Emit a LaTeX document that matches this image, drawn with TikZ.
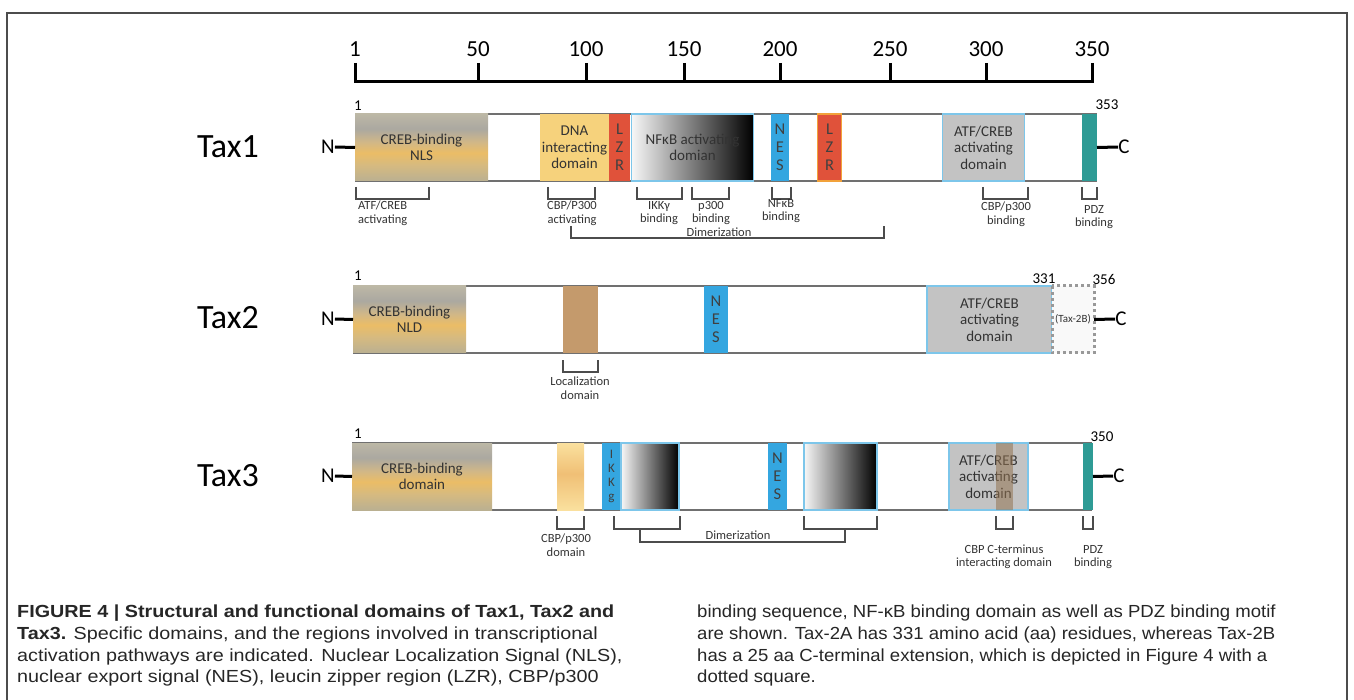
\documentclass[tikz,border=0pt]{standalone}
\usepackage{fontspec}
\setmainfont{Carlito}
\newfontfamily\capfontl{Liberation Sans}[FakeStretch=1.13]
\newfontfamily\capfontr{Liberation Sans}[FakeStretch=1.06]
\usepackage{xcolor}
\usetikzlibrary{arrows.meta}
\usetikzlibrary{backgrounds}

\definecolor{dnayellow}{HTML}{F6D27C}
\definecolor{lzrred}{HTML}{E0523A}
\definecolor{lzredge}{HTML}{F2A23A}
\definecolor{nesblue}{HTML}{34A6E0}
\definecolor{atfgray}{HTML}{C3C3C3}
\definecolor{edgeblue}{HTML}{7DC6EA}
\definecolor{pdzteal}{HTML}{2E9B95}
\definecolor{locbrown}{HTML}{C49A6C}
\definecolor{barline}{HTML}{707070}
\definecolor{crebbot}{rgb}{0.73,0.69,0.57}
\definecolor{crebwarm}{rgb}{0.84,0.73,0.50}
\definecolor{crebgold}{rgb}{0.92,0.74,0.40}
\definecolor{crebmid}{rgb}{0.82,0.72,0.53}
\definecolor{crebgray}{rgb}{0.67,0.66,0.63}
\definecolor{crebtop}{rgb}{0.74,0.72,0.65}
\definecolor{cbplight}{rgb}{0.98,0.88,0.62}
\definecolor{cbpdark}{rgb}{0.94,0.75,0.46}

% gray/gold banding of the CREB-binding boxes (path maps to 25bp..75bp)
\pgfdeclareverticalshading{crebband}{100bp}{
  color(0bp)=(crebbot); color(25bp)=(crebbot);
  color(37bp)=(crebwarm); color(46bp)=(crebgold);
  color(54bp)=(crebmid); color(64bp)=(crebgray);
  color(75bp)=(crebtop); color(100bp)=(crebtop)}
\pgfdeclareverticalshading{cbpblob}{100bp}{
  color(0bp)=(cbplight); color(25bp)=(cbplight);
  color(52bp)=(cbpdark);
  color(75bp)=(cbplight); color(100bp)=(cbplight)}

\begin{document}
\begin{tikzpicture}[x=1pt,y=-1pt,
    dom/.style={shape=rectangle, inner sep=0pt, outer sep=0pt,
      minimum height=67pt, align=center, text=black!80,
      font=\fontsize{15}{16.5}\selectfont},
    letters/.style={dom, text=black!75, font=\fontsize{16.5}{18}\selectfont},
    crebbox/.style={dom, shading=crebband},
    gradbox/.style={dom, draw=edgeblue, line width=1.2pt, left color=gray!6, right color=black},
    atfbox/.style={dom, fill=atfgray, draw=edgeblue, line width=1.2pt},
    lbl/.style={inner sep=0pt, align=center, text=black!80, font=\fontsize{12.5}{13.5}\selectfont},
    num/.style={inner sep=0pt, font=\fontsize{15}{15}\selectfont},
    tick/.style={inner sep=0pt, font=\fontsize{23}{23}\selectfont},
    taxname/.style={inner sep=0pt, font=\fontsize{34}{34}\selectfont},
    endname/.style={inner sep=0pt, font=\fontsize{21}{21}\selectfont},
    brk/.style={draw=black!70, line width=1.2pt},
    bar/.style={draw=barline, line width=2pt},
    stub/.style={draw=black, line width=3pt}]
    \useasboundingbox (0,0) rectangle (1354,700);
    %\draw[help lines,step=50] (0,0) grid (1354,700); % Only for Development

    % frame
    \draw[draw=black!70, line width=1.3pt] (7,705) -- (7,13) -- (1347,13) -- (1347,705);

    % scale bar
    \draw[line width=3pt] (355,82) -- (1093,82);
    \foreach \x/\n in {355/1,478/50,586/100,684/150,780/200,890/250,986/300,1092/350}{
      \draw[line width=3pt] (\x,63) -- (\x,83);
      \node[tick] (t\n) at (\x,49) {\n};
    }

    %% Tax1
    \node[taxname] (tax1) at (228,147) {Tax1};
    \draw[bar] (355,114) -- (1097,114);
    \draw[bar] (355,181) -- (1097,181);
    \node[crebbox, minimum width=133pt] (creb1) at (421.5,147.5) {CREB-binding\\NLS};
    \node[dom, fill=dnayellow, minimum width=69pt] (dna1) at (574.5,147.5) {DNA\\interacting\\domain};
    \node[letters, fill=lzrred, minimum width=21pt] (lzra1) at (619.5,147.5) {L\\Z\\R};
    \node[gradbox, minimum width=122pt] (nfkb1) at (692.5,147.5) {NFκB activating\\domian};
    \node[letters, fill=nesblue, minimum width=18pt] (nes1) at (780,147.5) {N\\E\\S};
    \node[letters, fill=lzrred, draw=lzredge, line width=1.2pt, minimum width=24pt] (lzrb1) at (829.5,147.5) {L\\Z\\R};
    \node[atfbox, minimum width=82pt] (atf1) at (983.5,147.5) {ATF/CREB\\activating\\domain};
    \node[dom, fill=pdzteal, minimum width=15pt] (pdz1) at (1089.5,147.5) {};
    \node[num] (s1) at (358,106) {1};
    \node[num] (e1) at (1107,105) {353};
    \node[endname] (n1) at (328,147) {N};
    \node[endname] (c1) at (1124,147) {C};
    \draw[stub] (n1.east) -- (creb1.west);
    \draw[stub] (pdz1.east) -- (c1.west);

    \draw[brk] (356,187) |- (429,199) -- (429,187);
    \node[lbl, align=left, anchor=west] (a1) at (358,213) {ATF/CREB\\activating};
    \draw[brk] (548,187) |- (595,199) -- (595,187);
    \node[lbl] (a2) at (572,213) {CBP/P300\\activating};
    \draw[brk] (637,187) |- (682,199) -- (682,187);
    \node[lbl] (a3) at (659,213) {IKKγ\\binding};
    \draw[brk] (692,187) |- (729,199) -- (729,187);
    \node[lbl] (a4) at (711,213) {p300\\binding};
    \draw[brk] (772,187) |- (791,199) -- (791,187);
    \node[lbl] (a5) at (781,211) {NFκB\\binding};
    \draw[brk] (983,187) |- (1028,199) -- (1028,187);
    \node[lbl] (a6) at (1006,214) {CBP/p300\\binding};
    \draw[brk] (1082,187) |- (1097,199) -- (1097,187);
    \node[lbl] (a7) at (1094,217) {PDZ\\binding};
    \draw[brk] (571,226) |- (884,238) -- (884,226);
    \node[lbl] (dim1) at (719,232) {Dimerization};

    %% Tax2
    \node[taxname] (tax2) at (228,318) {Tax2};
    \draw[bar] (353,286) -- (1052,286);
    \draw[bar] (353,353) -- (1052,353);
    \node[crebbox, minimum width=113pt] (creb2) at (409.5,319.5) {CREB-binding\\NLD};
    \node[dom, fill=locbrown, minimum width=35pt] (loc2) at (580.5,319.5) {};
    \node[letters, fill=nesblue, minimum width=24pt] (nes2) at (716,319.5) {N\\E\\S};
    \node[atfbox, minimum width=125pt] (atf2) at (989.5,319.5) {ATF/CREB\\activating\\domain};
    \node[dom, fill=gray!5, minimum width=42pt, font=\fontsize{11}{11}\selectfont] (ext2) at (1073,319.5) {(Tax-2B)};
    \draw[draw=gray!80, line width=3pt, dash pattern=on 3pt off 3pt]
      (ext2.north west) rectangle (ext2.south east);
    \node[num] (s2) at (358,276) {1};
    \node[num] (m2) at (1044,279) {331};
    \node[num] (e2) at (1104,279) {356};
    \node[endname] (n2) at (328,319) {N};
    \node[endname] (c2) at (1121,319) {C};
    \draw[stub] (n2.east) -- (creb2.west);
    \draw[stub] (ext2.east) -- (c2.west);

    \draw[brk] (563,360) |- (598,372) -- (598,360);
    \node[lbl] (l2) at (580,388) {Localization\\domain};

    %% Tax3
    \node[taxname] (tax3) at (228,476) {Tax3};
    \draw[bar] (352,443) -- (1092,443);
    \draw[bar] (352,510) -- (1092,510);
    \node[crebbox, minimum width=140pt] (creb3) at (422,476.5) {CREB-binding\\domain};
    \node[dom, shading=cbpblob, minimum width=27pt] (cbp3) at (570.5,476.5) {};
    \node[letters, fill=nesblue, minimum width=19pt, font=\fontsize{13}{14}\selectfont] (ikk3) at (611.5,476.5) {I\\K\\K\\g};
    \node[gradbox, minimum width=58pt] (gra3) at (650,476.5) {};
    \node[letters, fill=nesblue, minimum width=19pt] (nes3) at (777.5,476.5) {N\\E\\S};
    \node[gradbox, minimum width=73pt] (grb3) at (840.5,476.5) {};
    \node[atfbox, minimum width=79pt] (atf3) at (988.5,476.5) {ATF/CREB\\activating\\domain};
    \fill[fill=locbrown!75!black, fill opacity=0.55] (996,443) rectangle (1013,510);
    \node[dom, fill=pdzteal, minimum width=10pt] (pdz3) at (1088,476.5) {};
    \node[num] (s3) at (358,434) {1};
    \node[num] (e3) at (1102,437) {350};
    \node[endname] (n3) at (328,476) {N};
    \node[endname] (c3) at (1119,476) {C};
    \draw[stub] (n3.east) -- (creb3.west);
    \draw[stub] (pdz3.east) -- (c3.west);

    \draw[brk] (557,516) |- (584,529) -- (584,516);
    \node[lbl] (b1) at (566,545) {CBP/p300\\domain};
    \draw[brk] (614,516) |- (680,529) -- (680,516);
    \draw[brk] (804,516) |- (877,529) -- (877,516);
    \draw[brk] (640,529) |- (845,542) -- (845,529);
    \node[lbl] (dim3) at (738,535) {Dimerization};
    \draw[brk] (996,516) |- (1013,529) -- (1013,516);
    \node[lbl] (b2) at (1004,557) {CBP C-terminus\\interacting domain};
    \draw[brk] (1083,516) |- (1093,529) -- (1093,516);
    \node[lbl] (b3) at (1093,557) {PDZ\\binding};

    %% caption
    \node[anchor=north west, inner sep=0pt, align=left, text=black!85,
      font=\capfontl\fontsize{17.5}{21.7}\selectfont] (capl) at (17,605)
      {\textbf{FIGURE 4 | Structural and functional domains of Tax1, Tax2 and}\\
       \textbf{Tax3.} Specific domains, and the regions involved in transcriptional\\
       activation pathways are indicated. Nuclear Localization Signal (NLS),\\
       nuclear export signal (NES), leucin zipper region (LZR), CBP/p300};
    \node[anchor=north west, inner sep=0pt, align=left, text=black!85,
      font=\capfontr\fontsize{17.5}{21.7}\selectfont] (capr) at (697,605)
      {binding sequence, NF-κB binding domain as well as PDZ binding motif\\
       are shown. Tax-2A has 331 amino acid (aa) residues, whereas Tax-2B\\
       has a 25 aa C-terminal extension, which is depicted in Figure 4 with a\\
       dotted square.};
  \end{tikzpicture}
\end{document}
